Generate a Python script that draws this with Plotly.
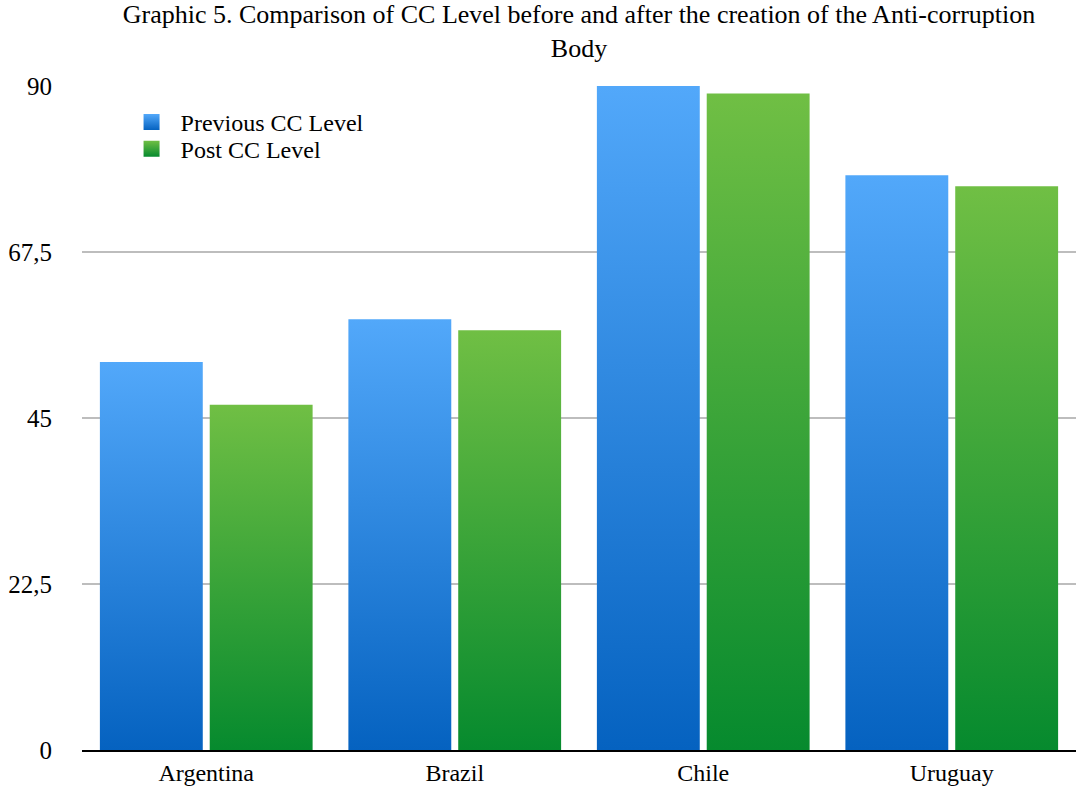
import plotly.graph_objects as go

# Control of Corruption level per country, before and after the anti-corruption body
countries = ["Argentina", "Brazil", "Chile", "Uruguay"]
previous_cc = [52.6, 58.4, 90.0, 77.9]
post_cc = [46.8, 56.9, 89.0, 76.4]

y_tick_values = [0, 22.5, 45, 67.5, 90]
y_tick_labels = ["0", "22,5", "45", "67,5", "90"]

FONT = "Liberation Serif"
BAR_WIDTH = 0.414   # width of one bar, in category units
INNER_GAP = 0.014   # half the gap between the two bars of a group

series = [
    # name, values, bottom colour, top colour, side of the group, legend id, legend y
    ("Previous CC Level", previous_cc, "#0562C0", "#52A8FA", -1, "legend", 0.945),
    ("Post CC Level", post_cc, "#068A2E", "#70BF44", 1, "legend2", 0.905),
]

fig = go.Figure()

for name, values, dark, light, side, legend_id, _ in series:
    for i, v in enumerate(values):
        if side < 0:
            x0, x1 = i - INNER_GAP - BAR_WIDTH, i - INNER_GAP
        else:
            x0, x1 = i + INNER_GAP, i + INNER_GAP + BAR_WIDTH
        # each bar is a filled rectangle with a vertical gradient
        fig.add_trace(go.Scatter(
            x=[x0, x1, x1, x0, x0],
            y=[0, 0, v, v, 0],
            mode="lines",
            fill="toself",
            line=dict(width=0, color=dark),
            fillgradient=dict(type="vertical",
                              colorscale=[[0, dark], [1, light]]),
            showlegend=False,
            hoverinfo="skip",
            name=f"{name} – {countries[i]}",
        ))
    # legend entry for the series
    fig.add_trace(go.Scatter(
        x=[None], y=[None],
        mode="markers",
        name=name,
        legend=legend_id,
        marker=dict(symbol="square", size=16, color=light,
                    gradient=dict(type="vertical", color=dark),
                    line=dict(width=0)),
    ))

legend_style = dict(
    x=0.0408, xanchor="left", yanchor="middle",
    font=dict(family=FONT, size=24, color="black"),
    bgcolor="rgba(0,0,0,0)",
    itemwidth=48,
)

fig.update_layout(
    width=1076, height=788,
    margin=dict(l=82, r=0, t=86, b=38),
    paper_bgcolor="white",
    plot_bgcolor="white",
    font=dict(family=FONT, color="black", size=22),
    title=dict(
        text="Graphic 5. Comparison of CC Level before and after the creation of the Anti-corruption<br>Body",
        x=0.5, xref="paper", xanchor="center",
        y=0.9705, yref="container", yanchor="top",
        font=dict(family=FONT, size=26, color="black"),
    ),
    showlegend=True,
    legend=dict(y=series[0][6], **legend_style),
    legend2=dict(y=series[1][6], **legend_style),
    xaxis=dict(
        range=[-0.5, len(countries) - 0.5],
        tickvals=list(range(len(countries))),
        ticktext=countries,
        showgrid=False,
        zeroline=False,
        showline=True,
        linecolor="black",
        linewidth=2,
        ticks="",
        tickfont=dict(family=FONT, size=24),
        ticklabelstandoff=0,
        fixedrange=True,
    ),
    yaxis=dict(
        range=[0, 90],
        tickvals=y_tick_values,
        ticktext=y_tick_labels,
        showgrid=True,
        gridcolor="#bdbdbd",
        gridwidth=2,
        zeroline=False,
        showline=False,
        ticks="",
        tickfont=dict(family=FONT, size=25),
        ticklabelstandoff=29,
        fixedrange=True,
    ),
)

fig.write_html("out.html")
